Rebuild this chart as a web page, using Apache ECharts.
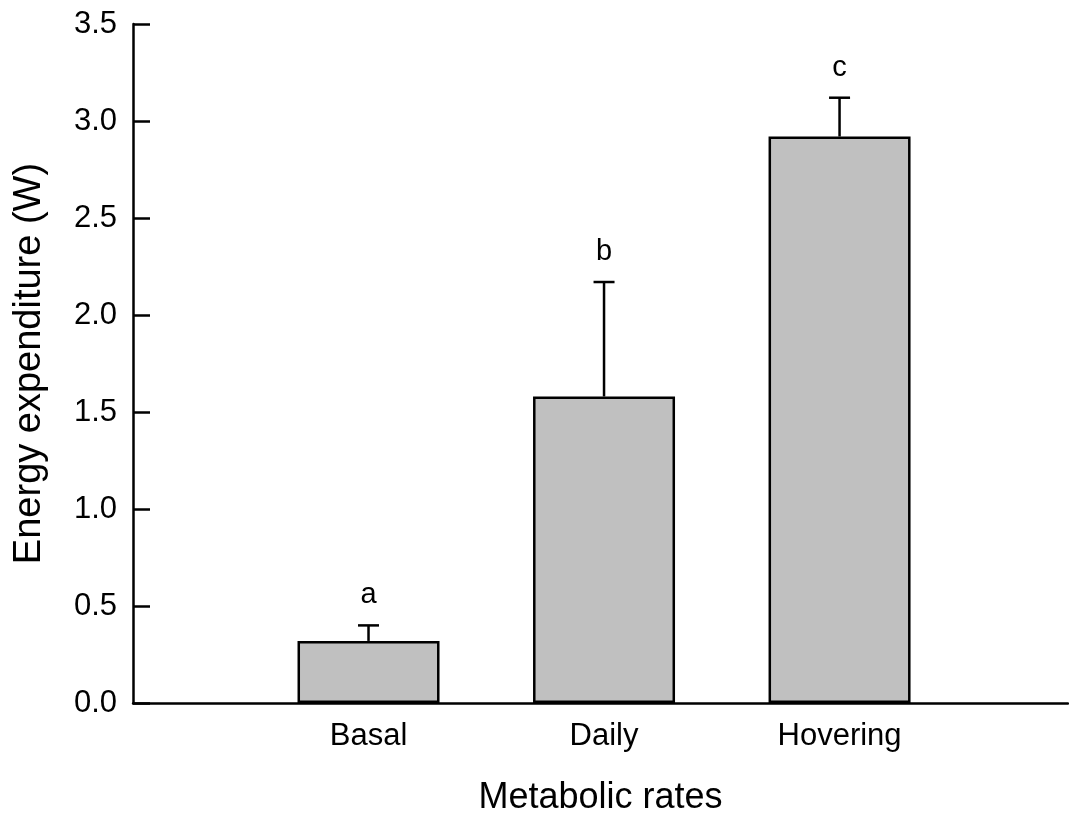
<!DOCTYPE html>
<html>
<head>
<meta charset="utf-8">
<script src="https://cdn.jsdelivr.net/npm/echarts@6/dist/echarts.min.js"></script>
<style>
    html, body { margin: 0; padding: 0; background: #fff; }
    #chart { width: 1069px; height: 823px; }
</style>
</head>
<body>
<div id="chart"></div>
<script>
// categories and values
var categories = ['Basal', 'Daily', 'Hovering'];
var positions = [1, 2, 3];
var means = [0.32, 1.58, 2.92];
var errTops = [0.40, 2.17, 3.12];
var letters = ['a', 'b', 'c'];

var font = 'Liberation Sans, Arial, sans-serif';

var barData = [], errData = [];
for (var i = 0; i < categories.length; i++) {
    barData.push([positions[i], means[i]]);
    errData.push([positions[i], means[i], errTops[i], letters[i]]);
}

var chart = echarts.init(document.getElementById('chart'));
chart.setOption({
    animation: false,
    grid: {left: 133, right: 1, top: 24, bottom: 120, containLabel: false},
    xAxis: {
        type: 'value',
        min: 0,
        max: 3.97,
        name: 'Metabolic rates',
        nameLocation: 'middle',
        nameGap: 77,
        nameTextStyle: {fontFamily: font, fontSize: 36, color: '#000'},
        axisLine: {show: true, lineStyle: {color: '#000', width: 2.5}},
        axisTick: {show: false},
        splitLine: {show: false},
        axisLabel: {
            customValues: positions,
            formatter: function (v) {
                var idx = positions.indexOf(Math.round(v));
                return idx >= 0 ? categories[idx] : '';
            },
            fontFamily: font, fontSize: 31, color: '#000', margin: 18
        }
    },
    yAxis: {
        type: 'value',
        min: 0,
        max: 3.5,
        interval: 0.5,
        name: 'Energy expenditure (W)',
        nameLocation: 'middle',
        nameGap: 84,
        nameTextStyle: {fontFamily: font, fontSize: 38, color: '#000'},
        axisLine: {show: true, lineStyle: {color: '#000', width: 2.5}},
        axisTick: {show: true, inside: true, length: 17, lineStyle: {color: '#000', width: 2.5}},
        splitLine: {show: false},
        axisLabel: {
            formatter: function (v) { return v.toFixed(1); },
            fontFamily: font, fontSize: 31, color: '#000', margin: 16
        }
    },
    series: [
        {
            type: 'bar',
            data: barData,
            barWidth: 142,
            itemStyle: {color: '#c0c0c0', borderColor: '#000', borderWidth: 2.5}
        },
        {
            type: 'custom',
            data: errData,
            z: 3,
            renderItem: function (params, api) {
                var base = api.coord([api.value(0), api.value(1)]);
                var top = api.coord([api.value(0), api.value(2)]);
                var cap = 10.5;
                var style = {stroke: '#000', lineWidth: 2.5};
                return {
                    type: 'group',
                    children: [
                        {type: 'line', shape: {x1: top[0], y1: base[1], x2: top[0], y2: top[1]}, style: style},
                        {type: 'line', shape: {x1: top[0] - cap, y1: top[1], x2: top[0] + cap, y2: top[1]}, style: style},
                        {
                            type: 'text',
                            x: top[0], y: top[1] - 30,
                            style: {
                                text: api.value(3),
                                fill: '#000',
                                font: '29px ' + font,
                                align: 'center',
                                verticalAlign: 'middle'
                            }
                        }
                    ]
                };
            }
        }
    ]
});
</script>
</body>
</html>
